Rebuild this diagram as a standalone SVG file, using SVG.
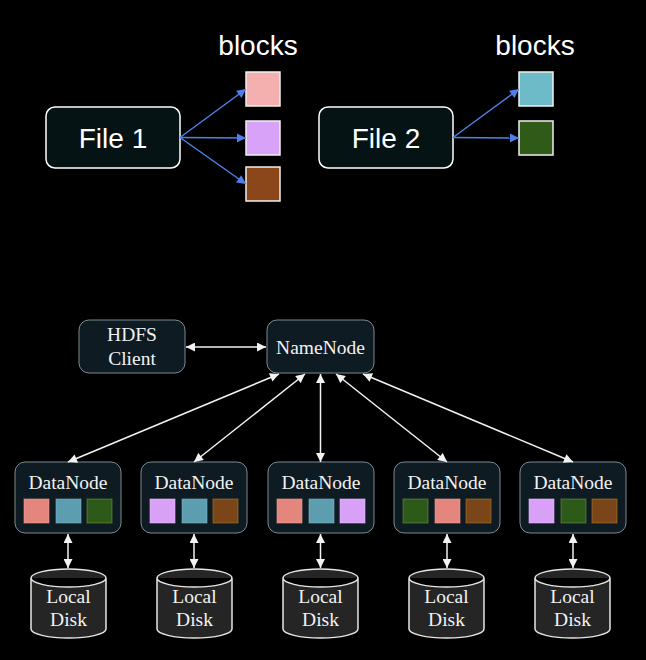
<svg xmlns="http://www.w3.org/2000/svg" width="646" height="660" viewBox="0 0 646 660">
<style>
.file{fill:#061314;stroke:#ffffff;stroke-width:1.5}
.ftxt{font-family:"Liberation Sans",Arial,sans-serif;font-size:28px;fill:#ffffff;text-anchor:middle}
.node{fill:#0e1b22;stroke:#7d8b8f;stroke-width:1}
.ntxt{font-family:"Liberation Serif","Times New Roman",serif;font-size:19.5px;fill:#f2f2f2;text-anchor:middle}
.disk{fill:#252525;stroke:#e6e6e6;stroke-width:1.5}
.blue{stroke:#4f80ea;stroke-width:1.5;fill:none}
.white{stroke:#f2f2f2;stroke-width:1.5;fill:none}
.sq{stroke:#f0f0f0;stroke-width:1.5}
.ds{stroke-width:1;stroke-opacity:0.6}
.pink{fill:#f3b0ae}
.purple{fill:#d9a2f9}
.brown{fill:#8b4719}
.cyan{fill:#6dbbc8}
.green{fill:#2f5a18}
.salmon{fill:#e5867e;stroke:#f0a097}
.dblue{fill:#5d9db0;stroke:#80b8c8}
.dgreen{fill:#2e5a19;stroke:#6c9a3a}
.dpurple{fill:#d8a0f7;stroke:#e8c0ff}
.dbrown{fill:#7b451a;stroke:#b0802a}
</style>
<defs>
<marker id="ab" viewBox="0 0 10 10" refX="10" refY="5" markerWidth="11" markerHeight="9" markerUnits="userSpaceOnUse" orient="auto">
<path d="M0,0 L10,5 L0,10 Z" fill="#4f80ea"/>
</marker>
<marker id="aw" viewBox="0 0 10 10" refX="10" refY="5" markerWidth="11" markerHeight="9" markerUnits="userSpaceOnUse" orient="auto-start-reverse">
<path d="M0,0 L10,5 L0,10 Z" fill="#f2f2f2"/>
</marker>
</defs>
<rect x="0" y="0" width="646" height="660" fill="#000000"/>

<g id="file1">
<rect class="file" x="46" y="107" width="134" height="61" rx="9"/>
<text class="ftxt" x="113" y="148">File 1</text>
</g>
<g id="blocks1">
<text class="ftxt" x="258" y="55">blocks</text>
<rect class="sq pink" x="246" y="72" width="34" height="34"/>
<rect class="sq purple" x="246" y="121" width="34" height="34"/>
<rect class="sq brown" x="246" y="167" width="34" height="34"/>
</g>
<g id="file2">
<rect class="file" x="319" y="107" width="134" height="61" rx="9"/>
<text class="ftxt" x="386" y="148">File 2</text>
</g>
<g id="blocks2">
<text class="ftxt" x="535" y="55">blocks</text>
<rect class="sq cyan" x="519" y="72" width="34" height="34"/>
<rect class="sq green" x="519" y="121" width="34" height="34"/>
</g>

<g id="hdfs-client">
<rect class="node" x="79" y="320" width="106" height="53" rx="10"/>
<text class="ntxt" x="132" y="341">HDFS</text>
<text class="ntxt" x="132" y="365">Client</text>
</g>
<g id="namenode">
<rect class="node" x="267" y="320" width="107" height="53" rx="10"/>
<text class="ntxt" x="320.5" y="354">NameNode</text>
</g>

<g id="datanode1">
<rect class="node" x="15" y="462" width="106" height="71" rx="10"/>
<text class="ntxt" x="68" y="489">DataNode</text>
<rect class="ds salmon" x="24" y="499" width="25" height="24"/>
<rect class="ds dblue" x="56" y="499" width="25" height="24"/>
<rect class="ds dgreen" x="87" y="499" width="25" height="24"/>
</g>
<g id="datanode2">
<rect class="node" x="141" y="462" width="106" height="71" rx="10"/>
<text class="ntxt" x="194" y="489">DataNode</text>
<rect class="ds dpurple" x="150" y="499" width="25" height="24"/>
<rect class="ds dblue" x="182" y="499" width="25" height="24"/>
<rect class="ds dbrown" x="213" y="499" width="25" height="24"/>
</g>
<g id="datanode3">
<rect class="node" x="268" y="462" width="106" height="71" rx="10"/>
<text class="ntxt" x="321" y="489">DataNode</text>
<rect class="ds salmon" x="277" y="499" width="25" height="24"/>
<rect class="ds dblue" x="309" y="499" width="25" height="24"/>
<rect class="ds dpurple" x="340" y="499" width="25" height="24"/>
</g>
<g id="datanode4">
<rect class="node" x="394" y="462" width="106" height="71" rx="10"/>
<text class="ntxt" x="447" y="489">DataNode</text>
<rect class="ds dgreen" x="403" y="499" width="25" height="24"/>
<rect class="ds salmon" x="435" y="499" width="25" height="24"/>
<rect class="ds dbrown" x="466" y="499" width="25" height="24"/>
</g>
<g id="datanode5">
<rect class="node" x="520" y="462" width="106" height="71" rx="10"/>
<text class="ntxt" x="573" y="489">DataNode</text>
<rect class="ds dpurple" x="529" y="499" width="25" height="24"/>
<rect class="ds dgreen" x="561" y="499" width="25" height="24"/>
<rect class="ds dbrown" x="592" y="499" width="25" height="24"/>
</g>

<g id="disk1">
<path class="disk" d="M31,578 A37.5,9 0 0 1 106,578 V629 A37.5,9 0 0 1 31,629 Z M31,578 A37.5,9 0 0 0 106,578"/>
<text class="ntxt" x="68.5" y="603">Local</text>
<text class="ntxt" x="68.5" y="626">Disk</text>
</g>
<g id="disk2">
<path class="disk" d="M157,578 A37.5,9 0 0 1 232,578 V629 A37.5,9 0 0 1 157,629 Z M157,578 A37.5,9 0 0 0 232,578"/>
<text class="ntxt" x="194.5" y="603">Local</text>
<text class="ntxt" x="194.5" y="626">Disk</text>
</g>
<g id="disk3">
<path class="disk" d="M283,578 A37.5,9 0 0 1 358,578 V629 A37.5,9 0 0 1 283,629 Z M283,578 A37.5,9 0 0 0 358,578"/>
<text class="ntxt" x="320.5" y="603">Local</text>
<text class="ntxt" x="320.5" y="626">Disk</text>
</g>
<g id="disk4">
<path class="disk" d="M409,578 A37.5,9 0 0 1 484,578 V629 A37.5,9 0 0 1 409,629 Z M409,578 A37.5,9 0 0 0 484,578"/>
<text class="ntxt" x="446.5" y="603">Local</text>
<text class="ntxt" x="446.5" y="626">Disk</text>
</g>
<g id="disk5">
<path class="disk" d="M535,578 A37.5,9 0 0 1 610,578 V629 A37.5,9 0 0 1 535,629 Z M535,578 A37.5,9 0 0 0 610,578"/>
<text class="ntxt" x="572.5" y="603">Local</text>
<text class="ntxt" x="572.5" y="626">Disk</text>
</g>

<g id="connectors">
<line class="blue" x1="180" y1="137.5" x2="246" y2="89" marker-end="url(#ab)"/>
<line class="blue" x1="180" y1="137.5" x2="246" y2="138" marker-end="url(#ab)"/>
<line class="blue" x1="180" y1="137.5" x2="246" y2="184" marker-end="url(#ab)"/>
<line class="blue" x1="453" y1="137.5" x2="519" y2="89" marker-end="url(#ab)"/>
<line class="blue" x1="453" y1="137.5" x2="519" y2="138" marker-end="url(#ab)"/>

<line class="white" x1="186" y1="347" x2="266" y2="347" marker-start="url(#aw)" marker-end="url(#aw)"/>

<line class="white" x1="279" y1="374" x2="68" y2="462" marker-start="url(#aw)" marker-end="url(#aw)"/>
<line class="white" x1="305" y1="374" x2="194" y2="462" marker-start="url(#aw)" marker-end="url(#aw)"/>
<line class="white" x1="320.5" y1="374" x2="320.5" y2="462" marker-start="url(#aw)" marker-end="url(#aw)"/>
<line class="white" x1="336" y1="374" x2="447" y2="462" marker-start="url(#aw)" marker-end="url(#aw)"/>
<line class="white" x1="363" y1="374" x2="573" y2="462" marker-start="url(#aw)" marker-end="url(#aw)"/>

<line class="white" x1="68" y1="534" x2="68" y2="568" marker-start="url(#aw)" marker-end="url(#aw)"/>
<line class="white" x1="194" y1="534" x2="194" y2="568" marker-start="url(#aw)" marker-end="url(#aw)"/>
<line class="white" x1="320.5" y1="534" x2="320.5" y2="568" marker-start="url(#aw)" marker-end="url(#aw)"/>
<line class="white" x1="447" y1="534" x2="447" y2="568" marker-start="url(#aw)" marker-end="url(#aw)"/>
<line class="white" x1="573" y1="534" x2="573" y2="568" marker-start="url(#aw)" marker-end="url(#aw)"/>
</g>
</svg>
